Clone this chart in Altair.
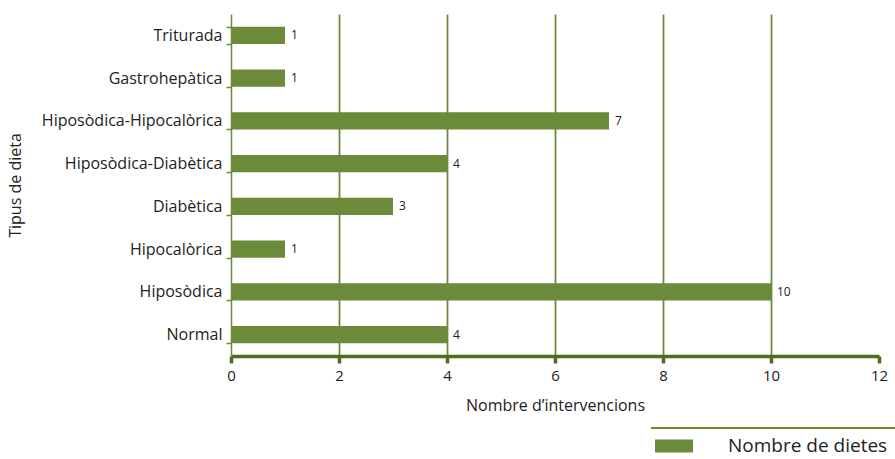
import altair as alt
import pandas as pd

categories = ["Triturada", "Gastrohepàtica", "Hiposòdica-Hipocalòrica",
              "Hiposòdica-Diabètica", "Diabètica", "Hipocalòrica",
              "Hiposòdica", "Normal"]
values = [1, 1, 7, 4, 3, 1, 10, 4]
series_name = "Nombre de dietes"
x_ticks = [0, 2, 4, 6, 8, 10, 12]

df = pd.DataFrame({"dieta": categories, "n": values, "serie": series_name})

FONT = "Open Sans"
BAR = "#6b8a3a"
DARK = "#4e6e1c"

y_enc = alt.Y("dieta:N", sort=categories,
              scale=alt.Scale(paddingInner=0.6, paddingOuter=0.3),
              axis=alt.Axis(title="Tipus de dieta", titleFontSize=16, titleFont=FONT,
                            titleFontWeight="normal", titleColor="#222",
                            titlePadding=0, titleX=-208, titleY=171,
                            labelFontSize=16, labelFont=FONT, labelColor="#222",
                            labelPadding=4, labelLimit=400, tickBand="extent", tickSize=5,
                            tickColor=BAR, tickWidth=1.5,
                            domainColor=BAR, domainWidth=1.5, grid=False))

x_enc = alt.X("n:Q", scale=alt.Scale(domain=[0, 12], nice=False),
              axis=alt.Axis(values=x_ticks, format="d", title="Nombre d\u2019intervencions",
                            titleFontSize=16, titleFont=FONT, titleFontWeight="normal",
                            titleColor="#222", titlePadding=14,
                            labelFontSize=15, labelFont=FONT, labelColor="#222",
                            labelPadding=5, labelFlush=False,
                            tickSize=7, tickWidth=3.5, tickColor=DARK,
                            domainColor=DARK, domainWidth=3.5,
                            grid=True, gridColor=BAR, gridWidth=1.8,
                            gridOpacity={"condition": {"test": "datum.value === 0 || datum.value === 12",
                                                       "value": 0}, "value": 1}))

bars = alt.Chart(df).mark_bar(color=BAR).encode(
    x=x_enc, y=y_enc,
    color=alt.Color("serie:N", scale=alt.Scale(range=[BAR]),
                    legend=alt.Legend(title=None, orient="none", legendX=424, legendY=413,
                                      symbolType="M-1,-0.34H1V0.34H-1Z", symbolSize=1444,
                                      symbolStrokeWidth=0, symbolOpacity=1,
                                      labelFontSize=19, labelFont=FONT, labelColor="#222",
                                      labelOffset=35))
)

labels = alt.Chart(df).mark_text(align="left", baseline="middle", dx=6,
                                 fontSize=12, font=FONT, color="#222").encode(
    x="n:Q", y=alt.Y("dieta:N", sort=categories), text="n:Q")

legend_line = alt.Chart(df).mark_rule(color=BAR, strokeWidth=1.5).encode(
    x=alt.value(420), x2=alt.value(664), y=alt.value(414))

chart = alt.layer(bars, labels, legend_line).properties(
    width=648, height=342,
    autosize=alt.AutoSizeParams(type="none"),
    padding={"left": 231, "top": 14, "right": 16, "bottom": 103},
).configure_view(stroke=None)

chart.save("out.html", embed_options={"renderer": "svg", "actions": False})
